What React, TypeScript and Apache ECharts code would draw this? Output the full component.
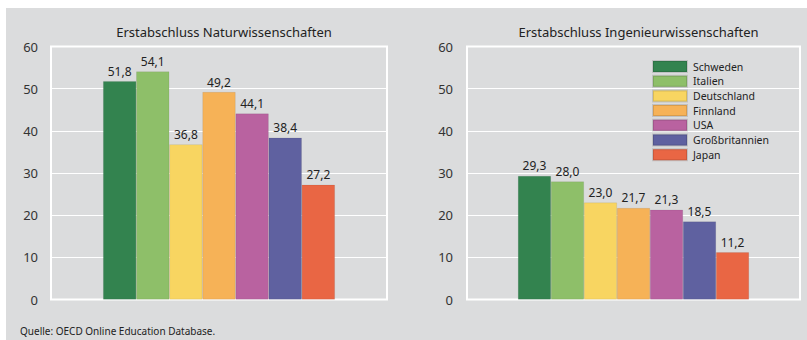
import React, { useEffect, useRef } from "react";
import * as echarts from "echarts";

// Countries (legend order) and their colours
const countries = ["Schweden", "Italien", "Deutschland", "Finnland", "USA", "Großbritannien", "Japan"];
const colors = ["#33834f", "#8ebf69", "#f8d561", "#f6b257", "#b962a0", "#5f61a0", "#e96644"];

// Share of first degrees, in percent
const naturwissenschaften = [51.8, 54.1, 36.8, 49.2, 44.1, 38.4, 27.2];
const ingenieurwissenschaften = [29.3, 28.0, 23.0, 21.7, 21.3, 18.5, 11.2];

const titles = ["Erstabschluss Naturwissenschaften", "Erstabschluss Ingenieurwissenschaften"];
const source = "Quelle: OECD Online Education Database.";

const FONT = "'Noto Sans', 'Open Sans', sans-serif";
const BG = "#dbdcdd";

export default function App() {
  const ref = useRef<HTMLDivElement>(null);

  useEffect(() => {
    if (!ref.current) return;
    const chart = echarts.init(ref.current, undefined, { renderer: "svg" });

    const grids = [
      { left: 45, top: 38.5, width: 336, height: 253 },
      { left: 461, top: 38.5, width: 333, height: 253 },
    ];
    const datasets = [naturwissenschaften, ingenieurwissenschaften];

    const series: any[] = [];
    datasets.forEach((values, g) => {
      countries.forEach((name, i) => {
        series.push({
          name,
          type: "bar",
          xAxisIndex: g,
          yAxisIndex: g,
          barGap: "0%",
          barCategoryGap: g === 0 ? "31%" : "30.6%",
          data: [values[i]],
          itemStyle: { color: colors[i], borderColor: "rgba(0,0,0,0.12)", borderWidth: 0.6 },
          label: {
            show: true,
            position: "top",
            distance: 4,
            fontFamily: FONT,
            fontSize: 12,
            color: "#222",
            formatter: (p: any) => p.value.toFixed(1).replace(".", ","),
          },
        });
      });
    });

    chart.setOption({
      animation: false,
      backgroundColor: BG,
      textStyle: { fontFamily: FONT },
      title: titles.map((t, g) => ({
        text: t,
        left: grids[g].left + grids[g].width / 2,
        textAlign: "center",
        top: 12,
        textStyle: { fontFamily: FONT, fontSize: 13, fontWeight: "normal", color: "#222" },
      })),
      legend: {
        data: countries,
        orient: "vertical",
        left: 646,
        top: 52,
        padding: 0,
        itemWidth: 34,
        itemHeight: 11,
        itemGap: 1.7,
        icon: "rect",
        textStyle: {
          fontFamily: FONT,
          fontSize: 10.5,
          lineHeight: 11,
          color: "#222",
          padding: [0, 0, 0, 1],
        },
      },
      grid: grids.map((g) => ({
        ...g,
        show: true,
        backgroundColor: "transparent",
        borderColor: "#ffffff",
        borderWidth: 2,
      })),
      xAxis: grids.map((_, g) => ({
        type: "category",
        gridIndex: g,
        data: [""],
        axisLine: { show: false },
        axisTick: { show: false },
        axisLabel: { show: false },
      })),
      yAxis: grids.map((_, g) => ({
        type: "value",
        gridIndex: g,
        min: 0,
        max: 60,
        interval: 10,
        axisLine: { show: false },
        axisTick: { show: false },
        axisLabel: { fontFamily: FONT, fontSize: 13, color: "#333", margin: g === 0 ? 13 : 14 },
        splitLine: { lineStyle: { color: "#ffffff", width: 1 } },
      })),
      graphic: [
        {
          type: "text",
          left: 14,
          top: 318,
          style: { text: source, fontFamily: FONT, fontSize: 10, fill: "#222" },
        },
      ],
      series,
    });

    return () => chart.dispose();
  }, []);

  return (
    <div
      ref={ref}
      style={{ position: "absolute", left: 6, top: 8, width: 801, height: 332 }}
    />
  );
}
